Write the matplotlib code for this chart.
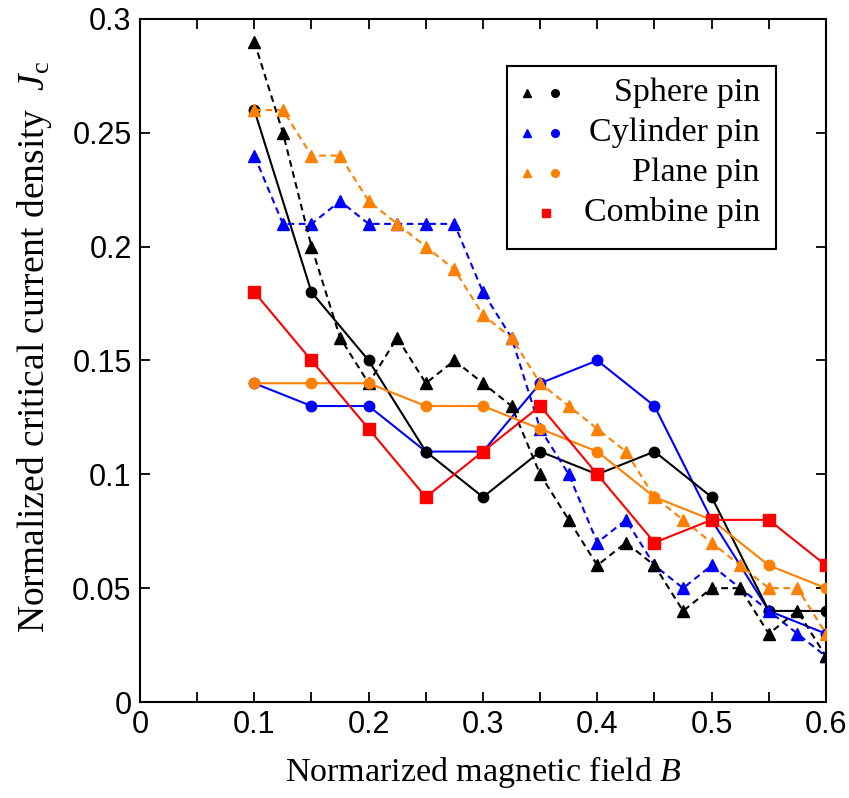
import matplotlib
matplotlib.use("Agg")
import matplotlib.pyplot as plt
from matplotlib.ticker import MultipleLocator
from matplotlib import font_manager

# ---------------- data ----------------
x_fine = [0.1, 0.125, 0.15, 0.175, 0.2, 0.225, 0.25, 0.275, 0.3, 0.325, 0.35,
          0.375, 0.4, 0.425, 0.45, 0.475, 0.5, 0.525, 0.55, 0.575, 0.6]
x_coarse = [0.1, 0.15, 0.2, 0.25, 0.3, 0.35, 0.4, 0.45, 0.5, 0.55, 0.6]

sphere_tri = [0.29, 0.25, 0.20, 0.16, 0.14, 0.16, 0.14, 0.15, 0.14, 0.13, 0.10,
              0.08, 0.06, 0.07, 0.06, 0.04, 0.05, 0.05, 0.03, 0.04, 0.02]
cylinder_tri = [0.24, 0.21, 0.21, 0.22, 0.21, 0.21, 0.21, 0.21, 0.18, 0.16, 0.12,
                0.10, 0.07, 0.08, 0.06, 0.05, 0.06, 0.05, 0.04, 0.03, 0.02]
plane_tri = [0.26, 0.26, 0.24, 0.24, 0.22, 0.21, 0.20, 0.19, 0.17, 0.16, 0.14,
             0.13, 0.12, 0.11, 0.09, 0.08, 0.07, 0.06, 0.05, 0.05, 0.03]

sphere_circ = [0.26, 0.18, 0.15, 0.11, 0.09, 0.11, 0.10, 0.11, 0.09, 0.04, 0.04]
cylinder_circ = [0.14, 0.13, 0.13, 0.11, 0.11, 0.14, 0.15, 0.13, 0.08, 0.04, 0.03]
plane_circ = [0.14, 0.14, 0.14, 0.13, 0.13, 0.12, 0.11, 0.09, 0.08, 0.06, 0.05]
combine_sq = [0.18, 0.15, 0.12, 0.09, 0.11, 0.13, 0.10, 0.07, 0.08, 0.08, 0.06]

legend_labels = ["Sphere pin", "Cylinder pin", "Plane pin", "Combine pin"]
x_ticks = [0, 0.1, 0.2, 0.3, 0.4, 0.5, 0.6]
x_ticklabels = ["0", "0.1", "0.2", "0.3", "0.4", "0.5", "0.6"]
y_ticks = [0, 0.05, 0.1, 0.15, 0.2, 0.25, 0.3]
y_ticklabels = ["0", "0.05", "0.1", "0.15", "0.2", "0.25", "0.3"]

BLACK = "#000000"
BLUE = "#0000ff"
ORANGE = "#ff8000"
RED = "#ff0000"

# ---------------- fonts ----------------
avail = {f.name for f in font_manager.fontManager.ttflist}
tick_family = ["Liberation Sans Narrow"] if "Liberation Sans Narrow" in avail else ["Liberation Sans"]
serif = ["Liberation Serif", "DejaVu Serif"]
plt.rcParams["mathtext.fontset"] = "custom"
plt.rcParams["mathtext.rm"] = "Liberation Serif"
plt.rcParams["mathtext.it"] = "Liberation Serif:italic"

fig = plt.figure(figsize=(8.49, 7.98), dpi=100)
ax = fig.add_axes([0.1649, 0.1203, 0.9729 - 0.1649, 0.9762 - 0.1203])

dash = (0, (3.2, 2.2))
lw = 1.5
tri_ms = 8.5
circ_ms = 7.5
sq_ms = 8.5

ax.plot(x_coarse, cylinder_circ, color=BLUE, lw=lw, marker="o", ms=circ_ms, zorder=3)
ax.plot(x_coarse, sphere_circ, color=BLACK, lw=lw, marker="o", ms=circ_ms, zorder=3)
ax.plot(x_fine, cylinder_tri, color=BLUE, lw=lw, ls=dash, marker="^", ms=tri_ms, zorder=4)
ax.plot(x_fine, sphere_tri, color=BLACK, lw=lw, ls=dash, marker="^", ms=tri_ms, zorder=4)
ax.plot(x_coarse, plane_circ, color=ORANGE, lw=lw, marker="o", ms=circ_ms, zorder=5)
ax.plot(x_fine, plane_tri, color=ORANGE, lw=lw, ls=dash, marker="^", ms=tri_ms, zorder=5)
ax.plot(x_coarse, combine_sq, color=RED, lw=lw, marker="s", ms=sq_ms, zorder=6)

ax.set_xlim(0, 0.6)
ax.set_ylim(0, 0.3)
ax.set_xticks(x_ticks)
ax.set_xticklabels(x_ticklabels)
ax.xaxis.set_minor_locator(MultipleLocator(0.05))
ax.set_yticks(y_ticks)
ax.set_yticklabels(y_ticklabels)

ax.tick_params(which="both", direction="in", top=True, right=True, width=1.3,
               labelsize=22, pad=6)
ax.tick_params(which="major", length=7)
ax.tick_params(which="minor", length=7)
for lab in ax.get_xticklabels() + ax.get_yticklabels():
    lab.set_family(tick_family)
for sp in ax.spines.values():
    sp.set_linewidth(1.5)

ax.set_xlabel(r"Normarized magnetic field $\mathit{B}$", family=serif, fontsize=24.5, labelpad=10)
ax.set_ylabel(r"Normalized critical current density  $\mathit{J}_{\mathrm{c}}$", family=serif,
              fontsize=27, labelpad=13)
ax.yaxis.label.set_y(0.52)

# ---------------- legend (manual) ----------------
tr = ax.transAxes
def ax_frac(px, py):
    return ((px - 140) / (826 - 140), (702 - py) / (702 - 19))

x0, y0 = ax_frac(507, 249)
x1, y1 = ax_frac(776, 66)
ax.add_patch(plt.Rectangle((x0, y0), x1 - x0, y1 - y0, transform=tr, fill=False,
                           edgecolor="black", lw=1.5, zorder=10))
rows = [93, 133, 173, 213]
colors = [BLACK, BLUE, ORANGE]
for i, lab in enumerate(legend_labels):
    _, yy = ax_frac(0, rows[i])
    if i < 3:
        ax.plot([ax_frac(527, 0)[0]], [yy], marker="^", ms=5.5, color=colors[i],
                transform=tr, ls="none", zorder=11, clip_on=False)
        ax.plot([ax_frac(555, 0)[0]], [yy], marker="o", ms=5.5, color=colors[i],
                transform=tr, ls="none", zorder=11, clip_on=False)
    else:
        ax.plot([ax_frac(546, 0)[0]], [yy], marker="s", ms=6, color=RED,
                transform=tr, ls="none", zorder=11, clip_on=False)
    ax.text(ax_frac(760, 0)[0], yy, lab, transform=tr, ha="right", va="center",
            family=serif, fontsize=24.5, zorder=11)

fig.savefig("out.png", dpi=100)
